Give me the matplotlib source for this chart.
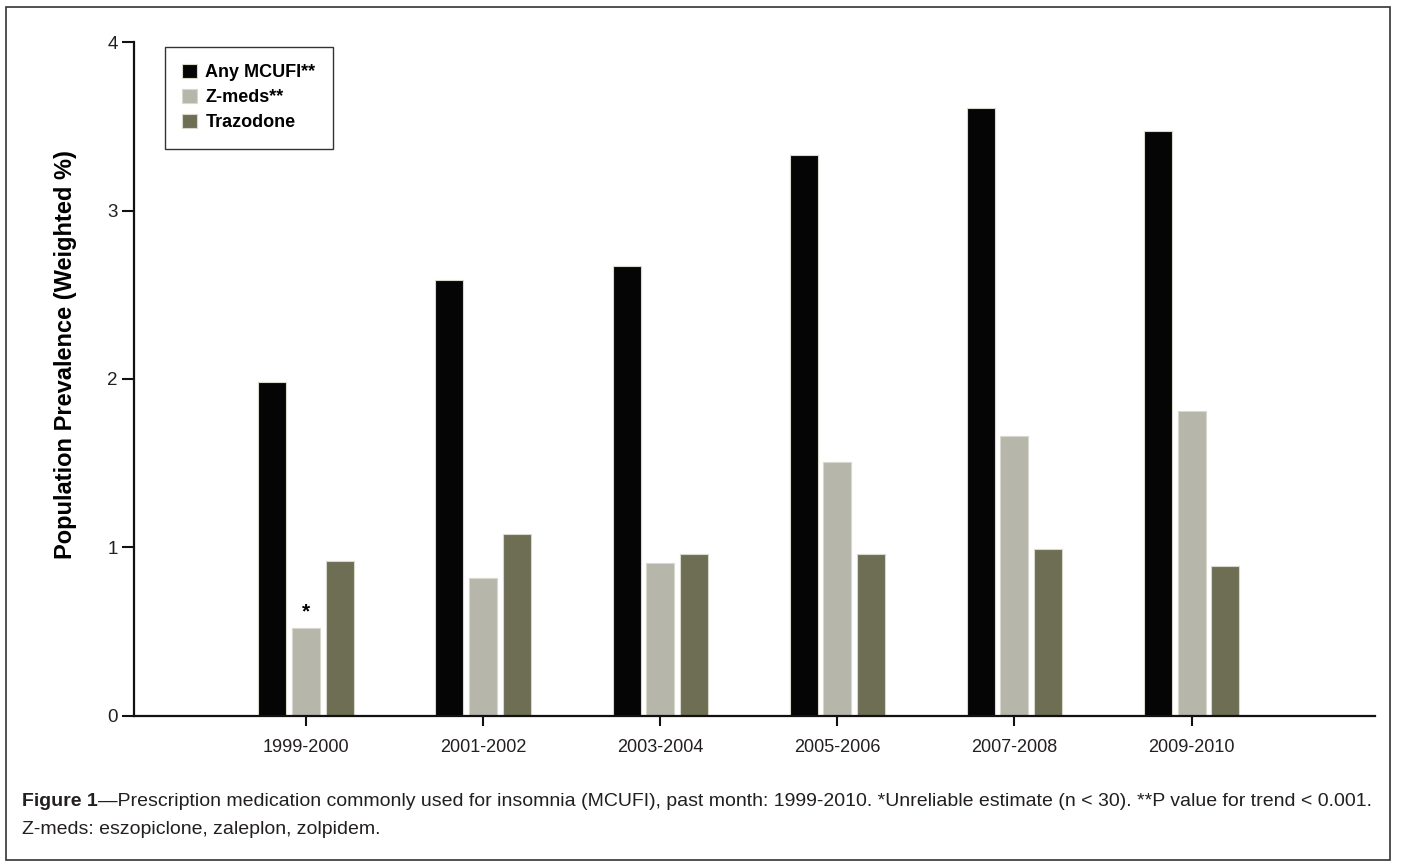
import matplotlib
matplotlib.use("Agg")
import matplotlib.pyplot as plt
from matplotlib.patches import Rectangle
import numpy as np

plt.rcParams["font.family"] = ["Liberation Sans", "DejaVu Sans"]

periods = ["1999-2000", "2001-2002", "2003-2004", "2005-2006", "2007-2008", "2009-2010"]
any_mcufi = [1.98, 2.59, 2.67, 3.33, 3.61, 3.47]
z_meds = [0.52, 0.82, 0.91, 1.51, 1.66, 1.81]
trazodone = [0.92, 1.08, 0.96, 0.96, 0.99, 0.89]

series = [
    ("Any MCUFI**", any_mcufi, "#050505"),
    ("Z-meds**", z_meds, "#b6b6aa"),
    ("Trazodone", trazodone, "#6e6e55"),
]

txt = "#231f20"

fig = plt.figure(figsize=(14.01, 8.65), dpi=100)
ax = fig.add_axes([0.0956, 0.1723, 0.8859, 0.7791])

x = np.arange(len(periods))
offset = 0.19
width = 0.158
for i, (name, vals, col) in enumerate(series):
    ax.bar(x + (i - 1) * offset, vals, width, color=col, edgecolor="#d8d8cc",
           linewidth=0.8, label=name, zorder=2)

# unreliable estimate marker
ax.text(x[0], z_meds[0] + 0.04, "*", ha="center", va="bottom", fontsize=15,
        fontweight="bold", color="black")

ax.set_xlim(-0.971, 6.036)
ax.set_ylim(0, 4)
ax.set_yticks([0, 1, 2, 3, 4])
ax.set_xticks(x)
ax.set_xticklabels(periods)
for s in ["top", "right"]:
    ax.spines[s].set_visible(False)
for s in ["left", "bottom"]:
    ax.spines[s].set_linewidth(1.6)
    ax.spines[s].set_color("#111111")
ax.tick_params(axis="y", length=8.5, width=1.5, pad=3, labelsize=13.5, labelcolor=txt, color="#111111")
ax.tick_params(axis="x", length=7.5, width=1.5, pad=9, labelsize=13, labelcolor=txt, color="#111111")

ax.set_ylabel("Population Prevalence (Weighted %)", fontsize=17, fontweight="bold",
              color="black")
ax.yaxis.set_label_coords(-0.046, 0.536)

leg = ax.legend(loc="upper left", bbox_to_anchor=(0.0249, 0.993), frameon=True,
                fancybox=False, edgecolor="black", prop={"weight": "bold", "size": 13},
                handlelength=0.85, handleheight=0.85, handletextpad=0.45,
                labelspacing=0.42, borderpad=0.95, borderaxespad=0)
leg.get_frame().set_linewidth(1.0)

# outer frame
fig.add_artist(Rectangle((0.004, 0.006), 0.9885, 0.986, transform=fig.transFigure,
                         fill=False, edgecolor="#333333", linewidth=1.2))

# caption
cap_y = 1 - 802 / 865
t1 = fig.text(0.0157, cap_y, "Figure 1", fontsize=14, fontweight="bold", color=txt, va="center")
fig.canvas.draw()
bb = t1.get_window_extent()
x1 = bb.x1 / fig.bbox.width
fig.text(x1, cap_y, "\u2014Prescription medication commonly used for insomnia (MCUFI), past month: "
         "1999-2010. *Unreliable estimate (n < 30). **P value for trend < 0.001.",
         fontsize=14, color=txt, va="center")
fig.text(0.0157, 1 - 829 / 865, "Z-meds: eszopiclone, zaleplon, zolpidem.",
         fontsize=14, color=txt, va="center")

fig.savefig("out.png", dpi=100)
